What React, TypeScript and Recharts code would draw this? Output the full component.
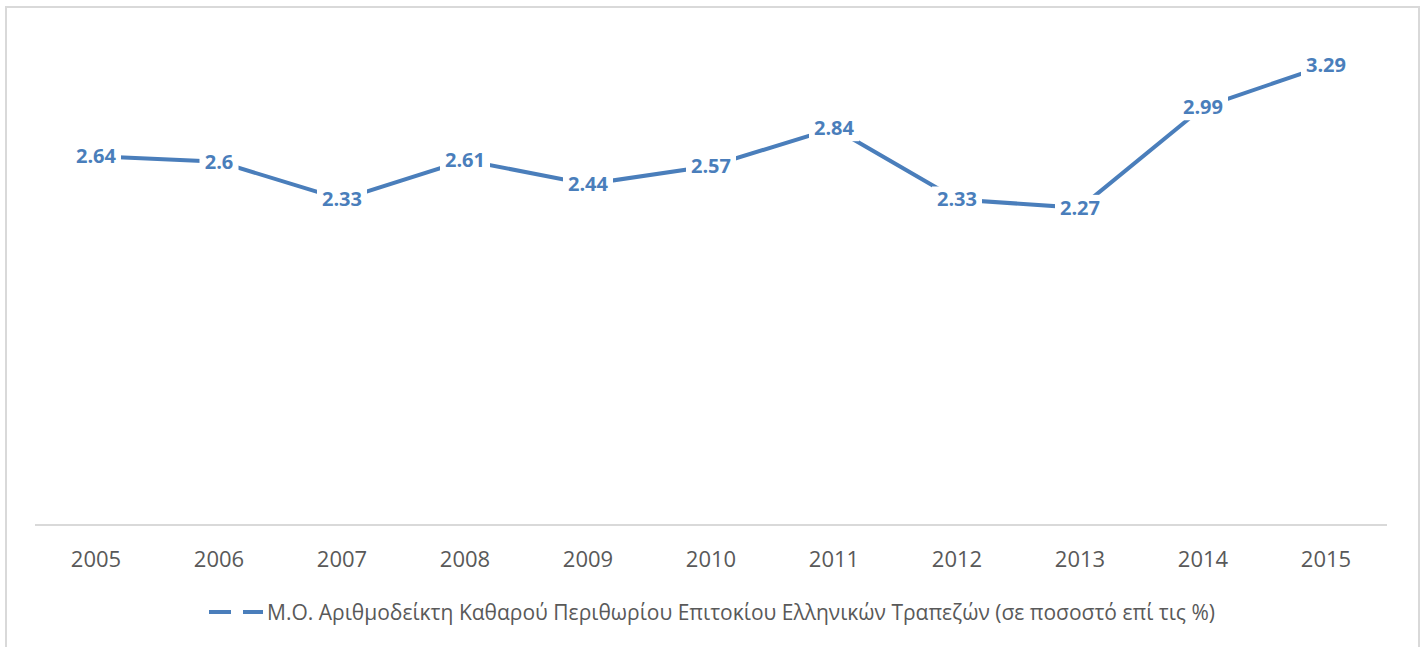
import { LineChart, Line, XAxis, YAxis, LabelList } from "recharts";

const years = ["2005", "2006", "2007", "2008", "2009", "2010", "2011", "2012", "2013", "2014", "2015"];
const nimValues = [2.64, 2.6, 2.33, 2.61, 2.44, 2.57, 2.84, 2.33, 2.27, 2.99, 3.29];
const seriesName =
	"Μ.Ο. Αριθμοδείκτη Καθαρού Περιθωρίου Επιτοκίου Ελληνικών Τραπεζών (σε ποσοστό επί τις %)";

const data = years.map((y, i) => ({ year: y, nim: nimValues[i] }));

const BLUE = "#4a7ebb";
const FONT = "'Open Sans', 'Noto Sans', sans-serif";

const ValueLabel = (props: any) => {
	const { x, y, value } = props;
	const txt = String(value);
	const w = txt.length * 11 + 6;
	return (
		<g>
			<rect x={x - w / 2} y={y - 13} width={w} height={26} fill="#fff" />
			<text
				x={x}
				y={y}
				dy="0.35em"
				textAnchor="middle"
				fill={BLUE}
				fontSize={20}
				fontWeight={700}
				fontFamily={FONT}>
				{txt}
			</text>
		</g>
	);
};

const LegendBox = () => (
	<div
		style={{
			position: "absolute",
			left: 0,
			top: 598,
			width: 1422,
			display: "flex",
			alignItems: "center",
			justifyContent: "center",
			fontFamily: FONT,
			fontSize: 21,
			color: "#595959",
		}}>
		<svg width={58} height={10} style={{ marginRight: 2 }}>
			<line x1={2} y1={5} x2={24} y2={5} stroke={BLUE} strokeWidth={4} />
			<line x1={36} y1={5} x2={56} y2={5} stroke={BLUE} strokeWidth={4} />
		</svg>
		<span>{seriesName}</span>
	</div>
);

export default function App() {
	return (
		<div style={{ position: "absolute", left: 0, top: 0, width: 1422, height: 647, background: "#fff", overflow: "hidden" }}>
			<div
				style={{
					position: "absolute",
					left: 5,
					top: 6,
					width: 1411,
					height: 700,
					border: "2px solid #d9d9d9",
				}}
			/>
			<LineChart
				width={1422}
				height={647}
				data={data}
				margin={{ top: 36, right: 35, bottom: 0, left: 35 }}>
				<XAxis
					dataKey="year"
					padding={{ left: 61, right: 61 }}
					axisLine={{ stroke: "#d9d9d9", strokeWidth: 2 }}
					tickLine={false}
					tick={{ fill: "#595959", fontSize: 22, fontFamily: FONT }}
					tickMargin={20}
					height={122}
				/>
				<YAxis hide domain={[0, 3.5]} />
				<Line
					type="linear"
					dataKey="nim"
					name={seriesName}
					stroke={BLUE}
					strokeWidth={4}
					dot={false}
					activeDot={false}
					isAnimationActive={false}>
					<LabelList dataKey="nim" content={<ValueLabel />} />
				</Line>
			</LineChart>
			<LegendBox />
		</div>
	);
}
